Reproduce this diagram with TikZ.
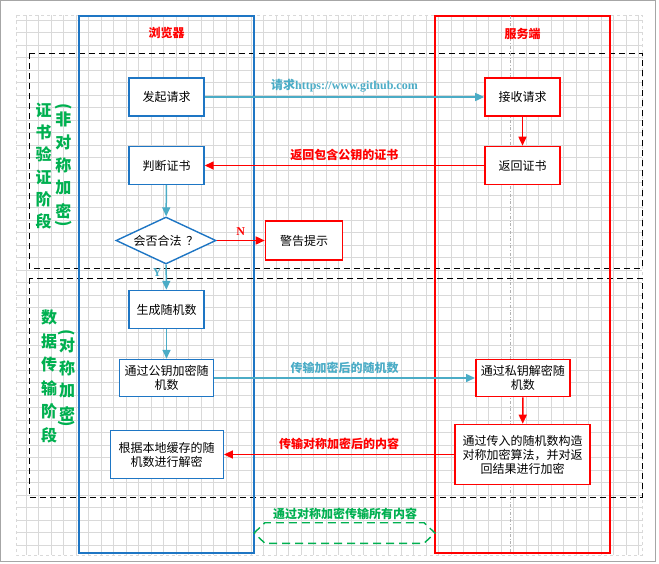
\documentclass[tikz,border=0pt]{standalone}
\usepackage{fontspec}
\setmainfont{Noto Sans CJK SC}
\newfontfamily\serif{Liberation Serif}
\usetikzlibrary{arrows.meta, shapes.geometric, positioning}
\definecolor{laneblue}{RGB}{30,118,196}
\definecolor{linkblue}{RGB}{75,172,198}
\definecolor{phasegreen}{RGB}{0,176,80}
\definecolor{gridgray}{RGB}{217,217,217}
\tikzset{
  bbox/.style={draw=laneblue, line width=1.4pt, fill=white, align=center, inner sep=0pt, font=\fontsize{12}{14}\selectfont},
  rbox/.style={bbox, draw=red, line width=1.6pt},
  flow/.style={line width=1.5pt, -{Triangle[length=9pt,width=8pt]}},
  lbl/.style={font=\fontsize{12}{14}\selectfont\bfseries, inner sep=1pt},
  phasetxt/.style={text=phasegreen, font=\fontsize{16}{16}\selectfont\bfseries, inner sep=0pt},
  phasebox/.style={line width=0.9pt, dash pattern=on 6pt off 4pt}
}
\begin{document}
\begin{tikzpicture}[x=1pt, y=-1pt]
  \useasboundingbox (0,0) rectangle (659,563);
  \draw[gray!70] (0.5,0.5) rectangle (655.5,561.5);
  \foreach \x in {0,...,49}
    \draw[gridgray] ({25.7+12.5*\x},15) -- ({25.7+12.5*\x},555);
  \foreach \y in {0,...,42}
    \draw[gridgray] (16,{20+12.5*\y}) -- (642,{20+12.5*\y});
  \draw[gridgray, dashed] (16,15) rectangle (642,555);

  \draw[phasebox] (29,53) rectangle (642,268);
  \draw[phasebox] (29,278) rectangle (642,497);

  \draw[laneblue, line width=1.6pt] (79,16) rectangle (254,553);
  \draw[red, line width=1.6pt] (435,16) rectangle (610,553);
  \draw[gray!60, dash dot, line width=0.8pt] (510,16) -- (510,553);

  \node[lbl, text=red] (browser) at (166.5,33) {浏览器};
  \node[lbl, text=red] (server) at (522.5,34) {服务端};

  \foreach \c [count=\i] in {证,书,验,证,阶,段}
    \node[phasetxt] (ca\i) at (43.5,{110+22.3*(\i-1)}) {\c};
  \foreach \c [count=\i] in {非,对,称,加,密}
    \node[phasetxt] (cb\i) at (63.3,{119+23*(\i-1)}) {\c};
  \node[phasetxt, rotate=-90] (cbl) at (63.3,107) {(};
  \node[phasetxt, rotate=-90] (cbr) at (63.3,224) {)};

  \foreach \c [count=\i] in {数,据,传,输,阶,段}
    \node[phasetxt] (da\i) at (49,{317.5+23.5*(\i-1)}) {\c};
  \foreach \c [count=\i] in {对,称,加,密}
    \node[phasetxt] (db\i) at (67,{345+23*(\i-1)}) {\c};
  \node[phasetxt, rotate=-90] (dbl) at (67,333) {(};
  \node[phasetxt, rotate=-90] (dbr) at (67,424) {)};

  \node[bbox, minimum width=75pt, minimum height=38pt] (req) at (166.5,97) {发起请求};
  \node[bbox, minimum width=75pt, minimum height=38pt] (judge) at (166.5,165.5) {判断证书};
  \node[bbox, diamond, aspect=2.1, minimum width=100pt, minimum height=47pt] (legal) at (166,240.5) {会否合法\hspace{5pt}？};
  \node[rbox, minimum width=77pt, minimum height=39pt] (warn) at (304,240.5) {警告提示};
  \node[bbox, minimum width=75pt, minimum height=38pt] (gen) at (166.5,309.5) {生成随机数};
  \node[bbox, minimum width=94pt, minimum height=37pt] (enc) at (166.5,378) {通过公钥加密随\\机数};
  \node[bbox, minimum width=113pt, minimum height=48pt] (decl) at (166.7,454.5) {根据本地缓存的随\\机数进行解密};

  \node[rbox, minimum width=75pt, minimum height=38pt] (recv) at (522.5,97) {接收请求};
  \node[rbox, minimum width=75pt, minimum height=38pt] (ret) at (522.5,165.5) {返回证书};
  \node[rbox, minimum width=94pt, minimum height=37pt] (dec) at (522.8,378) {通过私钥解密随\\机数};
  \node[rbox, minimum width=135pt, minimum height=60pt] (sym) at (522.7,454.5) {通过传入的随机数构造\\对称加密算法，并对返\\回结果进行加密};

  \draw[flow, linkblue] (req) -- node[lbl, text=linkblue, above=3pt] (reqlbl) {请求{\serif https://www.github.com}} (recv);
  \draw[flow, red] (recv) -- (ret);
  \draw[flow, red] (ret) -- node[lbl, text=red, above=3pt] (retlbl) {返回包含公钥的证书} (judge);
  \draw[flow, linkblue] (judge) -- (legal);
  \draw[flow, red] (legal) -- node[lbl, text=red, above=3pt] (nlbl) {\serif N} (warn);
  \draw[flow, linkblue] (legal) -- node[lbl, text=linkblue, pos=0.3, left=3pt] (ylbl) {\serif Y} (gen);
  \draw[flow, linkblue] (gen) -- (enc);
  \draw[flow, linkblue] (enc) -- node[lbl, text=linkblue, above=3pt] (enclbl) {传输加密后的随机数} (dec);
  \draw[flow, red] (dec) -- (sym);
  \draw[flow, red] (sym) -- node[lbl, text=red, above=3pt] (symlbl) {传输对称加密后的内容} (decl);

  \draw[phasegreen, line width=1.4pt, dash pattern=on 8pt off 5pt] (254,533) -- (265,522.7) -- (424,522.7) -- (435,533) -- (424,543.3) -- (265,543.3) -- cycle;
  \node[lbl, text=phasegreen] (alltxt) at (345,514) {通过对称加密传输所有内容};
\end{tikzpicture}
\end{document}
